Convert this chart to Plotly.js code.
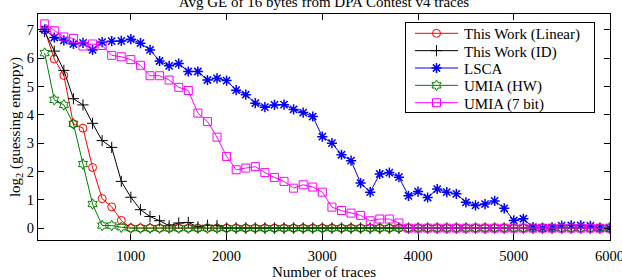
<!DOCTYPE html>
<html>
<head>
<meta charset="utf-8">
<script src="https://cdn.plot.ly/plotly-3.0.1.min.js"></script>
<style>
  html, body { margin: 0; padding: 0; background: #fff; }
  #chart { width: 622px; height: 280px; }
</style>
</head>
<body>
<div id="chart"></div>
<script>
// Number of traces used for each guessing-entropy estimate
const traces = [100, 200, 300, 400, 500, 600, 700, 800, 900, 1000,
  1100, 1200, 1300, 1400, 1500, 1600, 1700, 1800, 1900, 2000,
  2100, 2200, 2300, 2400, 2500, 2600, 2700, 2800, 2900, 3000,
  3100, 3200, 3300, 3400, 3500, 3600, 3700, 3800, 3900, 4000,
  4100, 4200, 4300, 4400, 4500, 4600, 4700, 4800, 4900, 5000,
  5100, 5200, 5300, 5400, 5500, 5600, 5700, 5800, 5900, 6000];

// log2(guessing entropy), averaged over the 16 key bytes
const thisWorkLinear = [7.0, 5.97, 5.39, 3.68, 3.53, 2.14, 1.04, 0.75, 0.27, 0,
  0, 0, 0, 0, 0, 0, 0, 0, 0, 0,
  0, 0, 0, 0, 0, 0, 0, 0, 0, 0,
  0, 0, 0, 0, 0, 0, 0, 0, 0, 0,
  0, 0, 0, 0, 0, 0, 0, 0, 0, 0,
  0, 0, 0, 0, 0, 0, 0, 0, 0, 0];

const thisWorkID = [6.94, 6.25, 5.57, 4.57, 4.35, 3.7, 3.09, 2.85, 1.65, 1.09,
  0.65, 0.41, 0.26, 0.08, 0.18, 0.2, 0.04, 0.1, 0.09, 0,
  0, 0, 0, 0, 0, 0, 0, 0, 0, 0,
  0, 0, 0, 0, 0, 0, 0, 0, 0, 0,
  0, 0, 0, 0, 0, 0, 0, 0, 0, 0,
  0, 0, 0, 0, 0, 0, 0, 0, 0, 0];

const lsca = [7.01, 6.73, 6.63, 6.5, 6.54, 6.29, 6.57, 6.6, 6.61, 6.67,
  6.53, 6.29, 5.9, 5.73, 5.81, 5.53, 5.53, 5.23, 5.29, 5.21,
  4.87, 4.71, 4.41, 4.27, 4.35, 4.36, 4.19, 4.08, 3.94, 3.23,
  3.0, 2.59, 2.38, 1.59, 1.27, 1.91, 1.96, 1.8, 1.14, 1.29,
  1.08, 1.38, 1.27, 1.21, 0.91, 0.8, 0.85, 0.96, 0.7, 0.27,
  0.33, 0.03, 0, 0.02, 0.09, 0.1, 0.1, 0.08, 0, 0];

const umiaHW = [6.18, 4.53, 4.35, 3.68, 2.26, 0.85, 0.09, 0.09, 0.03, 0,
  0, 0, 0, 0, 0, 0, 0, 0, 0, 0,
  0, 0, 0, 0, 0, 0, 0, 0, 0, 0,
  0, 0, 0, 0, 0, 0, 0, 0, 0, 0,
  0, 0, 0, 0, 0, 0, 0, 0, 0, 0,
  0, 0, 0, 0, 0, 0, 0, 0, 0, 0];

const umia7bit = [7.21, 6.97, 6.75, 6.7, 6.43, 6.5, 6.45, 6.1, 6.05, 5.95,
  5.75, 5.38, 5.38, 5.23, 4.97, 4.86, 4.06, 3.76, 3.21, 2.53,
  2.06, 2.12, 2.17, 1.96, 1.79, 1.65, 1.41, 1.53, 1.45, 1.27,
  0.74, 0.62, 0.53, 0.45, 0.26, 0.32, 0.32, 0.18, 0, 0,
  0, 0, 0, 0, 0, 0, 0, 0, 0, 0,
  0, 0, 0, 0, 0, 0, 0, 0, 0, 0];

const seriesNames = ['This Work (Linear)', 'This Work (ID)', 'LSCA', 'UMIA (HW)', 'UMIA (7 bit)'];
const xTicks = [1000, 2000, 3000, 4000, 5000, 6000];
const yTicks = [0, 1, 2, 3, 4, 5, 6, 7];

const FONT = '"Liberation Serif", "Times New Roman", Times, "DejaVu Serif", serif';

function series(name, y, color, symbol, size, mlw) {
  return {
    type: 'scatter', mode: 'lines+markers', name: name,
    x: traces, y: y,
    line: { color: color, width: 1 },
    marker: { symbol: symbol, size: size, color: color, line: { color: color, width: mlw } }
  };
}

const data = [
  series(seriesNames[0], thisWorkLinear, '#ff0000', 'circle-open', 8, 1),
  series(seriesNames[1], thisWorkID, '#000000', 'cross-thin-open', 8, 1),
  series(seriesNames[2], lsca, '#0000ff', 'asterisk-open', 8.5, 1.5),
  series(seriesNames[3], umiaHW, '#008000', 'hexagram-open', 8, 1),
  series(seriesNames[4], umia7bit, '#ff00ff', 'square-open', 8, 1)
];

const axisCommon = {
  showline: true, linecolor: '#000', linewidth: 1, mirror: 'ticks',
  ticks: 'inside', ticklen: 6, tickwidth: 1, tickcolor: '#000',
  showgrid: false, zeroline: false, ticklabeloverflow: 'allow',
  tickfont: { family: FONT, size: 14.5, color: '#000' }
};

const layout = {
  width: 622, height: 280,
  margin: { l: 38, r: 12, t: 14, b: 40 },
  paper_bgcolor: '#fff', plot_bgcolor: '#fff',
  font: { family: FONT, color: '#000' },
  title: {
    text: 'Avg GE of 16 bytes from DPA Contest v4 traces',
    font: { family: FONT, size: 15, color: '#000' },
    xref: 'paper', x: 0.5, xanchor: 'center',
    yref: 'container', y: 0.993, yanchor: 'middle'
  },
  xaxis: Object.assign({}, axisCommon, {
    range: [30, 6005], tickvals: xTicks, ticklabelstandoff: 3,
    title: { text: 'Number of traces', font: { family: FONT, size: 15, color: '#000' }, standoff: 0 }
  }),
  yaxis: Object.assign({}, axisCommon, {
    range: [-0.42, 7.56], tickvals: yTicks,
    title: { text: 'log<sub>2</sub> (guessing entropy)', font: { family: FONT, size: 15, color: '#000' }, standoff: 2 }
  }),
  showlegend: true,
  legend: {
    x: 0.974, y: 0.966, xanchor: 'right', yanchor: 'top',
    bgcolor: '#fff', bordercolor: '#000', borderwidth: 1,
    font: { family: FONT, size: 15, color: '#000' }
  }
};

// Legend box geometry (px): a compact, single-spaced key with long line samples
const LEGEND_BOX = { left: 405, top: 21.7, width: 190, height: 91.6 };
const LEGEND_ROW = { first: 11.6, step: 17.35, lineStart: 9, lineLen: 43, textX: 58 };

function tightenLegend(gd) {
  const leg = gd.querySelector('g.legend');
  if (!leg) return;
  const bg = leg.querySelector('rect.bg');
  const scroll = leg.querySelector('g.scrollbox');
  if (scroll) scroll.removeAttribute('clip-path');
  const items = leg.querySelectorAll('g.traces');
  items.forEach((g, i) => {
    g.setAttribute('transform', 'translate(1,' + (LEGEND_ROW.first + i * LEGEND_ROW.step) + ')');
    g.querySelectorAll('.legendlines path').forEach(p =>
      p.setAttribute('d', 'M' + LEGEND_ROW.lineStart + ',0h' + LEGEND_ROW.lineLen));
    g.querySelectorAll('.legendpoints path').forEach(p =>
      p.setAttribute('transform', 'translate(' + (LEGEND_ROW.lineStart + LEGEND_ROW.lineLen / 2) + ',0)'));
    const txt = g.querySelector('text.legendtext');
    if (txt) {
      txt.setAttribute('x', LEGEND_ROW.textX);
      txt.querySelectorAll('tspan.line').forEach(t => t.setAttribute('x', LEGEND_ROW.textX));
    }
  });
  if (bg) {
    bg.setAttribute('x', 0.5); bg.setAttribute('y', 0.5);
    bg.setAttribute('width', LEGEND_BOX.width - 1);
    bg.setAttribute('height', LEGEND_BOX.height - 1);
  }
  leg.setAttribute('transform', 'translate(' + LEGEND_BOX.left + ',' + LEGEND_BOX.top + ')');
}

const gd = document.getElementById('chart');
Plotly.newPlot(gd, data, layout, { staticPlot: true, displayModeBar: false })
  .then(() => tightenLegend(gd));
</script>
</body>
</html>
